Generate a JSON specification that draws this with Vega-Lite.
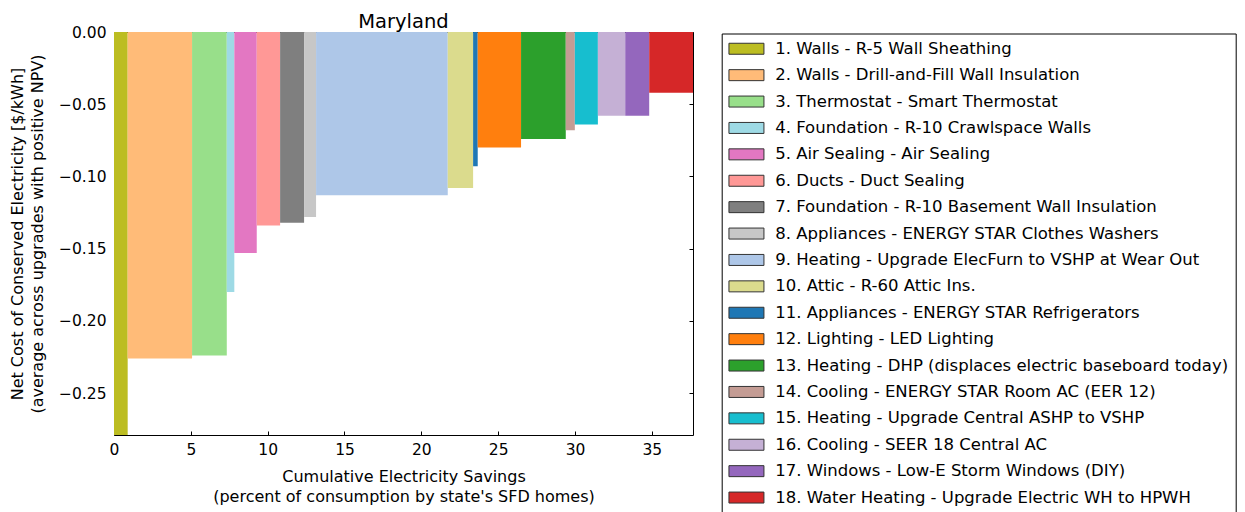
{
  "$schema": "https://vega.github.io/schema/vega-lite/v6.json",
  "width": 579,
  "height": 403,
  "autosize": {"type": "none"},
  "padding": {"left": 114, "top": 32, "right": 552, "bottom": 77},
  "background": "white",
  "title": {"text": "Maryland", "fontSize": 19.5, "font": "DejaVu Sans", "fontWeight": "normal", "color": "black", "offset": -7, "anchor": "middle"},
  "config": {
    "view": {"stroke": "black", "strokeWidth": 1},
    "font": "DejaVu Sans",
    "axis": {"grid": false, "domain": false, "tickColor": "black", "tickSize": -4, "tickWidth": 1, "labelColor": "black", "labelFont": "DejaVu Sans", "labelFontSize": 15.5, "labelFlush": false, "labelOverlap": false, "titleColor": "black", "titleFont": "DejaVu Sans", "titleFontSize": 16, "titleFontWeight": "normal", "titleLineHeight": 20}
  },
  "data": {"values": [
    {"upgrade": "1. Walls - R-5 Wall Sheathing", "start": 0, "end": 0.89, "cost": -0.32},
    {"upgrade": "2. Walls - Drill-and-Fill Wall Insulation", "start": 0.89, "end": 5.08, "cost": -0.226},
    {"upgrade": "3. Thermostat - Smart Thermostat", "start": 5.08, "end": 7.34, "cost": -0.224},
    {"upgrade": "4. Foundation - R-10 Crawlspace Walls", "start": 7.34, "end": 7.83, "cost": -0.180},
    {"upgrade": "5. Air Sealing - Air Sealing", "start": 7.83, "end": 9.29, "cost": -0.153},
    {"upgrade": "6. Ducts - Duct Sealing", "start": 9.29, "end": 10.81, "cost": -0.134},
    {"upgrade": "7. Foundation - R-10 Basement Wall Insulation", "start": 10.81, "end": 12.37, "cost": -0.132},
    {"upgrade": "8. Appliances - ENERGY STAR Clothes Washers", "start": 12.37, "end": 13.15, "cost": -0.128},
    {"upgrade": "9. Heating - Upgrade ElecFurn to VSHP at Wear Out", "start": 13.15, "end": 21.72, "cost": -0.113},
    {"upgrade": "10. Attic - R-60 Attic Ins.", "start": 21.72, "end": 23.37, "cost": -0.108},
    {"upgrade": "11. Appliances - ENERGY STAR Refrigerators", "start": 23.37, "end": 23.67, "cost": -0.093},
    {"upgrade": "12. Lighting - LED Lighting", "start": 23.67, "end": 26.49, "cost": -0.080},
    {"upgrade": "13. Heating - DHP (displaces electric baseboard today)", "start": 26.49, "end": 29.40, "cost": -0.074},
    {"upgrade": "14. Cooling - ENERGY STAR Room AC (EER 12)", "start": 29.40, "end": 29.99, "cost": -0.068},
    {"upgrade": "15. Heating - Upgrade Central ASHP to VSHP", "start": 29.99, "end": 31.49, "cost": -0.064},
    {"upgrade": "16. Cooling - SEER 18 Central AC", "start": 31.49, "end": 33.27, "cost": -0.058},
    {"upgrade": "17. Windows - Low-E Storm Windows (DIY)", "start": 33.27, "end": 34.83, "cost": -0.058},
    {"upgrade": "18. Water Heating - Upgrade Electric WH to HPWH", "start": 34.83, "end": 37.68, "cost": -0.042}
  ]},
  "layer": [
    {
      "mark": {"type": "rect", "clip": true},
      "encoding": {
        "x": {"field": "start", "type": "quantitative", "scale": {"domain": [0, 37.68], "nice": false, "zero": false},
          "axis": {"orient": "bottom", "values": [0, 5, 10, 15, 20, 25, 30, 35], "labelPadding": 11, "titlePadding": 11, "title": ["Cumulative Electricity Savings", "(percent of consumption by state's SFD homes)"]}},
        "x2": {"field": "end"},
        "y": {"field": "cost", "type": "quantitative", "scale": {"domain": [-0.279, 0], "nice": false, "zero": false},
          "axis": {"orient": "left", "values": [0, -0.05, -0.1, -0.15, -0.2, -0.25], "format": ".2f", "labelExpr": "replace(datum.label, '-', '\u2212')", "labelPadding": 12, "titlePadding": 13, "title": ["Net Cost of Conserved Electricity [$/kWh]", "(average across upgrades with positive NPV)"]}},
        "y2": {"datum": 0},
        "color": {"field": "upgrade", "type": "nominal",
          "scale": {
            "domain": ["1. Walls - R-5 Wall Sheathing", "2. Walls - Drill-and-Fill Wall Insulation", "3. Thermostat - Smart Thermostat", "4. Foundation - R-10 Crawlspace Walls", "5. Air Sealing - Air Sealing", "6. Ducts - Duct Sealing", "7. Foundation - R-10 Basement Wall Insulation", "8. Appliances - ENERGY STAR Clothes Washers", "9. Heating - Upgrade ElecFurn to VSHP at Wear Out", "10. Attic - R-60 Attic Ins.", "11. Appliances - ENERGY STAR Refrigerators", "12. Lighting - LED Lighting", "13. Heating - DHP (displaces electric baseboard today)", "14. Cooling - ENERGY STAR Room AC (EER 12)", "15. Heating - Upgrade Central ASHP to VSHP", "16. Cooling - SEER 18 Central AC", "17. Windows - Low-E Storm Windows (DIY)", "18. Water Heating - Upgrade Electric WH to HPWH"],
            "range": ["#bcbd22", "#ffbb78", "#98df8a", "#9edae5", "#e377c2", "#ff9896", "#7f7f7f", "#c7c7c7", "#aec7e8", "#dbdb8d", "#1f77b4", "#ff7f0e", "#2ca02c", "#c49c94", "#17becf", "#c5b0d5", "#9467bd", "#d62728"]
          },
          "legend": {"title": null, "orient": "none", "legendX": 607.7, "legendY": 1.5, "strokeColor": "black", "fillColor": "white", "padding": 7, "columns": 1,
            "symbolType": "M-1.6,-1.1H5.4V1.1H-1.6Z", "symbolSize": 100, "symbolStrokeColor": "#333333", "symbolStrokeWidth": 1, "symbolOpacity": 1,
            "labelFont": "DejaVu Sans", "labelFontSize": 16.5, "labelColor": "black", "labelLimit": 700, "labelOffset": 30, "rowPadding": 9.4}
        }
      }
    },
    {
      "mark": {"type": "rect", "opacity": 0},
      "encoding": {
        "x": {"field": "start", "type": "quantitative", "axis": {"orient": "top", "values": [0, 5, 10, 15, 20, 25, 30, 35], "labels": false, "title": null}},
        "x2": {"field": "end"},
        "y": {"field": "cost", "type": "quantitative", "axis": {"orient": "right", "values": [0, -0.05, -0.1, -0.15, -0.2, -0.25], "labels": false, "title": null}},
        "y2": {"datum": 0}
      }
    }
  ],
  "resolve": {"axis": {"x": "independent", "y": "independent"}}
}
